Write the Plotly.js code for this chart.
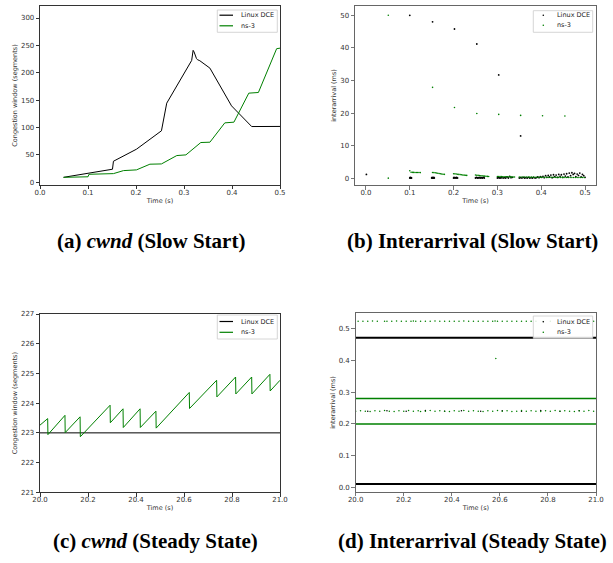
<!DOCTYPE html>
<html><head><meta charset="utf-8">
<script src="https://cdn.plot.ly/plotly-3.0.1.min.js"></script>
<style>html,body{margin:0;padding:0;background:#fff}#chart{width:613px;height:563px}</style>
</head><body><div id="chart"></div>
<script>
// ---------- (a) cwnd, slow start ----------
const dceSlowCwndT = [0.049,0.151,0.153,0.201,0.253,0.264,0.316,0.319,0.321,0.323,0.326,0.328,0.333,0.354,0.362,0.364,0.372,0.374,0.382,0.384,0.392,0.394,0.399,0.441,0.500];
const dceSlowCwndY = [9,23.8,38.4,60.4,94,144.5,222.6,241,238,232,226,224,222,208.5,196,194,180,179,164,162,149,147,139.6,101.8,102];
const ns3SlowCwndT = [0.049,0.100,0.102,0.153,0.174,0.201,0.229,0.253,0.285,0.304,0.335,0.354,0.385,0.404,0.435,0.455,0.493,0.500];
const ns3SlowCwndY = [9,10,14.6,15.8,21.3,22.6,33,33.5,48.8,50,72.6,73.2,108.5,109.8,162.8,164,244,245];

// ---------- (b) interarrival, slow start ----------
const dceSlowIaT = [0.001,0.100,0.100,0.101,0.102,0.103,0.104,0.152,0.150,0.151,0.152,0.153,0.154,0.155,0.156,
 0.202,0.200,0.201,0.203,0.204,0.206,0.207,0.209,0.253,0.250,0.252,0.254,0.256,0.258,0.260,0.262,0.264,0.266,0.268,0.270,
 0.303,0.300,0.302,0.304,0.306,0.308,0.310,0.313,0.316,0.319,0.322,0.325,0.328,0.331,0.334,
 0.353,0.350,0.353,0.356,0.359,0.362,0.365,0.368,0.371,0.374,0.377,0.380,0.383,0.386,0.389,
 0.392,0.395,0.398,0.401,0.404,0.407,0.410,0.413,0.416,0.419,0.422,0.425,0.428,0.431,0.434,0.437,0.440,0.443,0.446,0.449,
 0.452,0.455,0.458,0.461,0.464,0.467,0.470,0.473,0.476,0.479,0.482,0.485,0.488,0.491,0.494,0.497,0.500];
const dceSlowIaY = [1.2,50.0,0.1,0.3,0.1,0.2,0.1,48.0,0.1,0.3,0.1,0.2,0.1,0.3,0.1,
 45.8,0.1,0.3,0.1,0.2,0.1,0.3,0.1,41.2,0.1,0.3,0.1,0.2,0.1,0.3,0.1,0.2,0.1,0.3,0.1,
 31.7,0.1,0.3,0.1,0.2,0.1,0.3,0.1,0.2,0.1,0.4,0.1,0.6,0.2,0.3,
 13.0,0.1,0.2,0.1,0.3,0.1,0.2,0.1,0.3,0.1,0.2,0.1,0.3,0.1,0.2,
 0.4,0.2,0.5,0.3,0.6,0.2,0.8,0.3,0.9,0.4,1.0,0.2,1.1,0.5,1.0,0.3,1.2,0.6,1.1,0.3,
 1.3,0.7,1.4,0.4,1.6,0.8,1.7,1.2,1.5,0.5,1.3,0.9,1.6,0.4,1.2,0.8,0.3];
const ns3SlowIaT = [0.051,0.051,0.100,0.103,0.106,0.109,0.112,0.115,0.118,0.121,0.124,
 0.152,0.152,0.155,0.158,0.161,0.164,0.167,0.170,0.173,0.176,0.179,
 0.202,0.200,0.203,0.206,0.209,0.212,0.215,0.218,0.221,0.224,0.227,0.230,
 0.253,0.250,0.253,0.256,0.259,0.262,0.265,0.268,0.271,0.274,0.277,0.280,
 0.303,0.300,0.303,0.306,0.309,0.312,0.315,0.318,0.321,0.324,0.327,0.330,0.333,0.336,0.339,
 0.353,0.350,0.354,0.358,0.362,0.366,0.370,0.374,0.378,0.382,0.386,0.390,0.394,0.398,
 0.403,0.400,0.404,0.408,0.412,0.416,0.420,0.424,0.428,0.432,0.436,0.440,0.444,0.448,
 0.454,0.450,0.454,0.458,0.462,0.466,0.470,0.474,0.478,0.482,0.486,0.490,0.494,0.498];
const ns3SlowIaY = [50.0,0.05,2.3,1.85,1.83,1.81,1.80,1.79,1.78,1.77,1.76,
 27.9,1.80,1.76,1.70,1.63,1.55,1.47,1.40,1.33,1.27,1.22,
 21.7,1.42,1.37,1.32,1.26,1.20,1.14,1.08,1.02,0.97,0.93,0.90,
 19.9,1.00,0.95,0.90,0.85,0.80,0.75,0.70,0.66,0.62,0.59,0.56,
 19.6,0.55,0.54,0.52,0.51,0.50,0.49,0.48,0.47,0.46,0.45,0.44,0.43,0.42,0.41,
 19.3,0.42,0.41,0.40,0.39,0.38,0.37,0.36,0.35,0.35,0.34,0.33,0.33,0.32,
 19.2,0.32,0.31,0.31,0.30,0.30,0.30,0.29,0.29,0.29,0.28,0.28,0.28,0.28,
 19.1,0.28,0.28,0.27,0.27,0.27,0.27,0.27,0.26,0.26,0.26,0.26,0.26,0.26];

// ---------- (c) cwnd, steady state ----------
const dceSteadyCwndT = [20.0,21.0];
const dceSteadyCwndY = [223,223];
const ns3SteadyCwndT = [20.000,20.032,20.033,20.104,20.105,20.167,20.168,20.292,20.293,20.346,20.347,20.417,20.418,20.483,20.484,20.622,20.623,20.736,20.737,20.815,20.816,20.882,20.883,20.958,20.959,21.000];
const ns3SteadyCwndY = [223.26,223.48,222.94,223.59,223.01,223.54,222.87,223.93,223.34,223.81,223.18,223.81,223.18,223.73,223.16,224.36,223.82,224.77,224.21,224.88,224.31,224.88,224.31,224.97,224.41,224.77];

// ---------- (d) interarrival, steady state ----------
const steadySpanT = [20.0,21.0];            // dense packet trains spanning the window
const dceSteadyLevels = [0.470,0.012];      // ms
const ns3SteadyLevels = [0.280,0.200];      // ms
const dceSteadyDotT = [20.05,20.13,20.21,20.29,20.37,20.44,20.52,20.61,20.69,20.77,20.85,20.93];
const dceSteadyDotY = [0.240,0.241,0.240,0.242,0.240,0.241,0.240,0.241,0.240,0.242,0.240,0.241];
const ns3RowHighT = [20.01,20.03,20.05,20.07,20.09,20.12,20.13,20.15,20.17,20.19,20.21,20.23,20.24,20.25,20.27,20.29,20.31,20.33,20.35,20.37,20.39,20.41,20.43,20.45,20.47,20.49,20.51,20.53,20.55,20.57,20.58,20.59,20.61,20.63,20.65,20.67,20.69,20.71,20.73,20.75,20.78,20.81,20.85,20.89,20.93,20.97,20.99];
const ns3RowHighY = [0.522,0.522,0.522,0.523,0.522,0.522,0.522,0.522,0.523,0.522,0.522,0.522,0.523,0.522,0.522,0.522,0.522,0.523,0.522,0.522,0.522,0.522,0.522,0.523,0.522,0.522,0.522,0.522,0.522,0.522,0.523,0.522,0.522,0.522,0.522,0.522,0.522,0.522,0.522,0.522,0.522,0.522,0.522,0.522,0.522,0.522,0.522];
const ns3RowMidT = [20.00,20.02,20.04,20.06,20.08,20.10,20.12,20.14,20.16,20.18,20.20,20.22,20.24,20.26,20.27,20.29,20.31,20.33,20.35,20.37,20.39,20.41,20.43,20.45,20.47,20.49,20.51,20.53,20.55,20.57,20.59,20.61,20.63,20.65,20.67,20.69,20.71,20.73,20.75,20.77,20.79,20.81,20.83,20.85,20.87,20.89,20.91,20.93,20.95,20.97,20.99];
const ns3RowMidY = [0.240,0.241,0.240,0.239,0.241,0.240,0.242,0.240,0.239,0.241,0.240,0.242,0.240,0.241,0.239,0.240,0.242,0.240,0.241,0.240,0.239,0.241,0.240,0.242,0.240,0.241,0.240,0.239,0.241,0.240,0.242,0.240,0.241,0.239,0.240,0.242,0.240,0.241,0.240,0.239,0.241,0.240,0.242,0.240,0.241,0.240,0.239,0.241,0.240,0.242,0.240];
const ns3OutlierT = [20.583];
const ns3OutlierY = [0.405];

// ---------- text ----------
const seriesNames = ['Linux DCE','ns-3'];
const captions = ['(a) <i>cwnd</i> (Slow Start)','(b) Interarrival (Slow Start)','(c) <i>cwnd</i> (Steady State)','(d) Interarrival (Steady State)'];
const cwndTitle = 'Congestion window (segments)';
const iaTitle = 'interarrival (ms)';
const timeTitle = 'Time (s)';

const BLACK = '#000000', GREEN = '#008000';
const W = 613, H = 563;
const px = v => v / W, py = v => 1 - v / H;

function levelsXY(levels) {
  const x = [], y = [];
  levels.forEach((lv, i) => { if (i) { x.push(null); y.push(null); } x.push(steadySpanT[0], steadySpanT[1]); y.push(lv, lv); });
  return {x, y};
}
const dceLv = levelsXY(dceSteadyLevels), ns3Lv = levelsXY(ns3SteadyLevels);

const traces = [
  {x: dceSlowCwndT, y: dceSlowCwndY, xaxis:'x', yaxis:'y', mode:'lines', line:{color:BLACK, width:1}, name:seriesNames[0]},
  {x: ns3SlowCwndT, y: ns3SlowCwndY, xaxis:'x', yaxis:'y', mode:'lines', line:{color:GREEN, width:1}, name:seriesNames[1]},
  {x: dceSlowIaT, y: dceSlowIaY, xaxis:'x2', yaxis:'y2', mode:'markers', marker:{color:BLACK, size:1.8}, name:seriesNames[0]},
  {x: ns3SlowIaT, y: ns3SlowIaY, xaxis:'x2', yaxis:'y2', mode:'markers', marker:{color:GREEN, size:1.6}, name:seriesNames[1]},
  {x: dceSteadyCwndT, y: dceSteadyCwndY, xaxis:'x3', yaxis:'y3', mode:'lines', line:{color:BLACK, width:1}, name:seriesNames[0]},
  {x: ns3SteadyCwndT, y: ns3SteadyCwndY, xaxis:'x3', yaxis:'y3', mode:'lines', line:{color:GREEN, width:1}, name:seriesNames[1]},
  {x: dceLv.x, y: dceLv.y, xaxis:'x4', yaxis:'y4', mode:'lines', line:{color:BLACK, width:2}, name:seriesNames[0]},
  {x: dceSteadyDotT, y: dceSteadyDotY, xaxis:'x4', yaxis:'y4', mode:'markers', marker:{color:BLACK, size:1.5}, name:seriesNames[0]},
  {x: ns3Lv.x, y: ns3Lv.y, xaxis:'x4', yaxis:'y4', mode:'lines', line:{color:GREEN, width:1.6}, name:seriesNames[1]},
  {x: ns3RowHighT, y: ns3RowHighY, xaxis:'x4', yaxis:'y4', mode:'markers', marker:{color:GREEN, size:1.5}, name:seriesNames[1]},
  {x: ns3RowMidT, y: ns3RowMidY, xaxis:'x4', yaxis:'y4', mode:'markers', marker:{color:GREEN, size:1.5}, name:seriesNames[1]},
  {x: ns3OutlierT, y: ns3OutlierY, xaxis:'x4', yaxis:'y4', mode:'markers', marker:{color:GREEN, size:1.5}, name:seriesNames[1]}
];
traces.forEach(t => t.showlegend = false);

const tickFont = {family:'DejaVu Sans', size:7, color:'#333'};
const titleFont = {family:'DejaVu Sans', size:6.5, color:'#333'};
function ax(domain, range, dtick, fmt, title, extra) {
  return Object.assign({domain, range, dtick, tick0: 0, tickformat: fmt, ticks:'outside', ticklen:3.5, tickwidth:0.8,
    tickcolor:'#000', showline:true, mirror:true, linecolor:'#000', linewidth:0.8, showgrid:false, zeroline:false,
    tickfont:tickFont, title:{text:title, font:titleFont, standoff:2}, automargin:false, fixedrange:true}, extra || {});
}
const xdA = [px(40), px(280)], xdB = [px(355), px(596)];
const ydTop = [py(185), py(6)], ydBot = [py(492.3), py(314)];
const ydD = [py(491.7), py(313.3)];
const grayFrame = {linecolor:'#666', tickcolor:'#555', linewidth:1};

const layout = {
  width: W, height: H, margin:{l:0, r:0, t:0, b:0}, paper_bgcolor:'#fff', plot_bgcolor:'#fff', showlegend:false,
  xaxis:  ax(xdA, [0, 0.5], 0.1, '.1f', timeTitle, {anchor:'y', ticklabelstandoff:-3}),
  yaxis:  ax(ydTop, [-5, 322], 50, 'd', cwndTitle, {anchor:'x'}),
  xaxis2: ax(xdB, [-0.025, 0.525], 0.1, '.1f', timeTitle, Object.assign({anchor:'y2', ticklabelstandoff:-3}, grayFrame)),
  yaxis2: ax(ydTop, [-2.05, 52.85], 10, 'd', iaTitle, Object.assign({anchor:'x2'}, grayFrame)),
  xaxis3: ax(xdA, [20, 21], 0.2, '.1f', timeTitle, {anchor:'y3', ticklabelstandoff:-3}),
  yaxis3: ax(ydBot, [221, 227], 1, 'd', cwndTitle, {anchor:'x3'}),
  xaxis4: ax([px(355.7), px(596)], [20, 21], 0.2, '.1f', timeTitle, Object.assign({anchor:'y4', ticklabelstandoff:-3}, grayFrame)),
  yaxis4: ax(ydD, [-0.0125, 0.547], 0.1, '.1f', iaTitle, Object.assign({anchor:'x4'}, grayFrame)),
  shapes: [], annotations: []
};

// custom legends (matplotlib-style compact boxes)
const legends = [
  {box:[217.3, 277.3, 10, 32.3], rows:[15.2, 25.8], kind:'line', sx:[219.5, 233], tx:239},
  {box:[533.3, 592.7, 10.7, 32.3], rows:[15.3, 25.3], kind:'dot', sx:[543.3], tx:555},
  {box:[217.3, 277.3, 315, 339], rows:[321.5, 332.3], kind:'line', sx:[219.5, 233], tx:239},
  {box:[533.3, 592.7, 316, 338.3], rows:[321.7, 332.3], kind:'dot', sx:[543.3], tx:555}
];
const legColors = [BLACK, GREEN];
legends.forEach(L => {
  layout.shapes.push({type:'rect', xref:'paper', yref:'paper', x0:px(L.box[0]), x1:px(L.box[1]), y0:py(L.box[3]), y1:py(L.box[2]),
    fillcolor:'rgba(255,255,255,0.85)', line:{color:'#cccccc', width:0.8}, layer:'above'});
  L.rows.forEach((ry, i) => {
    if (L.kind === 'line') {
      layout.shapes.push({type:'line', xref:'paper', yref:'paper', x0:px(L.sx[0]), x1:px(L.sx[1]), y0:py(ry), y1:py(ry),
        line:{color:legColors[i], width:1.2}, layer:'above'});
    } else {
      layout.shapes.push({type:'circle', xref:'paper', yref:'paper', x0:px(L.sx[0]-0.8), x1:px(L.sx[0]+0.8), y0:py(ry+0.8), y1:py(ry-0.8),
        fillcolor:legColors[i], line:{color:legColors[i], width:0}, layer:'above'});
    }
    layout.annotations.push({xref:'paper', yref:'paper', x:px(L.tx), y:py(ry), xanchor:'left', yanchor:'middle', showarrow:false,
      text:seriesNames[i], font:{family:'DejaVu Sans', size:6.5, color:'#222'}});
  });
});

// sub-captions
const capPos = [[151, 241], [472, 241], [155, 541], [472, 541]];
captions.forEach((c, i) => {
  layout.annotations.push({xref:'paper', yref:'paper', x:px(capPos[i][0]), y:py(capPos[i][1]), xanchor:'center', yanchor:'middle',
    showarrow:false, text:'<b>' + c + '</b>', font:{family:'Liberation Serif', size:21, color:'#000'}});
});

Plotly.newPlot('chart', traces, layout, {staticPlot:true, displayModeBar:false});
</script></body></html>
